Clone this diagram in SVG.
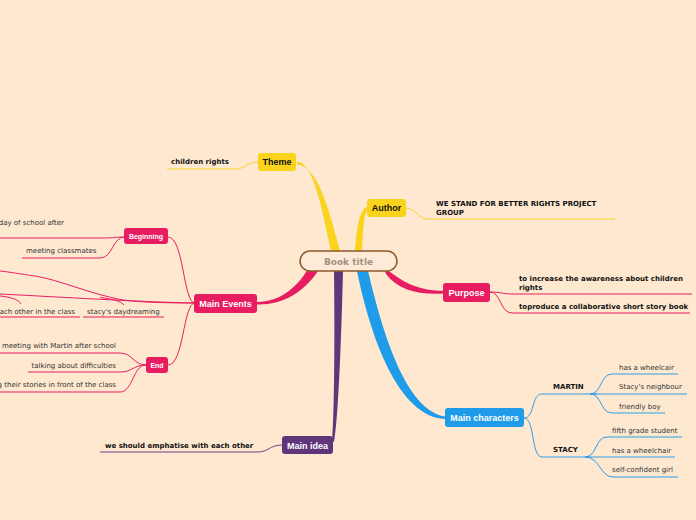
<svg xmlns="http://www.w3.org/2000/svg" width="696" height="520" viewBox="0 0 696 520">
<style>
.t{font-family:"DejaVu Sans",Verdana,sans-serif;font-size:7px;fill:#333}
.b{font-family:"DejaVu Sans",Verdana,sans-serif;font-size:7px;font-weight:bold;fill:#111}
.lbl{font-family:"Liberation Sans",Arial,sans-serif;font-size:9px;font-weight:bold;text-anchor:middle}
.w{fill:#fff}
.k{fill:#111}
.sm{font-family:"Liberation Sans",Arial,sans-serif;font-size:7px;font-weight:bold;text-anchor:middle;fill:#fff}
.ln{fill:none;stroke-width:1}
.y{stroke:#F7D329}
.r{stroke:#E81D62}
.bl{stroke:#2E9DE8}
.p{stroke:#6A4589}
.ny{fill:#F9D31C}
.nr{fill:#E81C60}
.nb{fill:#1E9BE9}
.np{fill:#5E3679}
</style>
<rect width="696" height="520" fill="#FEE8D0"/>
<g id="connectors">
  <path d="M297,161.5 C314,163 322,210 331,251 L340,251 C329,210 318,166 297,164.5 Z" fill="#F9D31C"/>
  <path d="M355,251 C357,225 360,208 368,206.5 L368,209 C364,212 363,230 362,251 Z" fill="#F9D31C"/>
  <path d="M383,266 C402,283 420,291 444,291 L444,293.5 C418,295 398,290 386,274 Z" fill="#E81C60"/>
  <path d="M309,267 C298,287 280,302 257,302 L257,304.5 C283,305 303,293 318,271 Z" fill="#E81C60"/>
  <path d="M334,271 L343,271 C341,350 338,420 334,442 L332,441 C334,420 335,350 334,271 Z" fill="#5E3679"/>
  <path d="M357,271 C370,335 398,417 445,419 L445,416.5 C405,410 382,330 368,271 Z" fill="#1E9BE9"/>
  <path class="ln y" d="M258,162 C246,162 246,169 235,169 L167,169"/>
  <path class="ln y" d="M406,208 C416,208 418,219 428,219 L615,219"/>
  <path class="ln r" d="M490,292 C500,292 503,294 512,294 L692,294"/>
  <path class="ln r" d="M490,292 C501,292 500,313 512,313 L690,313"/>
  <path class="ln bl" d="M524,418 C535,418 531,394 542,394 L597,394"/>
  <path class="ln bl" d="M524,418 C535,418 531,457 542,457 L590,457"/>
  <path class="ln bl" d="M590,394 C602,394 600,374 612,374 L678,374"/>
  <path class="ln bl" d="M590,394 L687,394"/>
  <path class="ln bl" d="M590,394 C602,394 600,413 612,413 L665,413"/>
  <path class="ln bl" d="M585,457 C597,457 595,437 607,437 L682,437"/>
  <path class="ln bl" d="M585,457 L675,457"/>
  <path class="ln bl" d="M585,457 C600,457 600,477 613,477 L678,477"/>
  <path class="ln p" d="M282,445 C270,445 268,452 258,452 L100,452"/>
  <path class="ln r" d="M195,303 C183,303 184,237 168,237"/>
  <path class="ln r" d="M195,303 C183,303 184,365 168,365"/>
  <path class="ln r" d="M125,237 C116,237 113,238 105,238 L0,238"/>
  <path class="ln r" d="M125,237 C112,237 113,258 100,258 L22,258"/>
  <path class="ln r" d="M146,365 C133,365 133,353 120,353 L0,353"/>
  <path class="ln r" d="M146,365 C133,365 133,372 120,372 L28,372"/>
  <path class="ln r" d="M146,365 C133,365 133,392 120,392 L0,392"/>
  <path class="ln r" d="M195,303 C160,303 140,302 123,300 C90,294 60,280 35,276 C20,274 10,272 0,271"/>
  <path class="ln r" d="M195,303 C140,302 60,297 0,294"/>
  <path class="ln r" d="M100,297.5 C112,299 121,301 124,305"/>
  <path class="ln r" d="M0,296 C10,297 18,299 21,304"/>
  <path class="ln r" d="M0,317 L80,317"/>
  <path class="ln r" d="M83,317 L164,317"/>
</g>
<g id="book-title">
  <rect x="300" y="251" width="97" height="20" rx="10" fill="#FEEAD6" stroke="#8C5A2E" stroke-width="1.5"/>
  <text x="348.5" y="264.5" text-anchor="middle" style="font-family:'DejaVu Sans',Verdana,sans-serif;font-size:9px;font-weight:bold;fill:#A39383">Book title</text>
</g>
<g id="theme">
  <rect x="258" y="153" width="38" height="18" rx="3" class="ny"/>
  <text x="277" y="165" class="lbl k">Theme</text>
</g>
<g id="children-rights"><text x="171" y="164" class="b">children rights</text></g>
<g id="author">
  <rect x="367" y="199" width="39" height="18" rx="3" class="ny"/>
  <text x="386.5" y="211" class="lbl k">Author</text>
</g>
<g id="author-text">
  <text x="436" y="206" class="b">WE STAND FOR BETTER RIGHTS PROJECT</text>
  <text x="436" y="215" class="b">GROUP</text>
</g>
<g id="purpose">
  <rect x="443" y="283" width="47" height="19" rx="3" class="nr"/>
  <text x="466.5" y="295.5" class="lbl w">Purpose</text>
</g>
<g id="purpose-1">
  <text x="519" y="281" class="b">to increase the awareness about children</text>
  <text x="519" y="290" class="b">rights</text>
</g>
<g id="purpose-2"><text x="519" y="309" class="b">toproduce a collaborative short story book</text></g>
<g id="main-characters">
  <rect x="445" y="408" width="79" height="19" rx="3" class="nb"/>
  <text x="484.5" y="421" class="lbl w">Main characters</text>
</g>
<g id="martin"><text x="553" y="389" class="b">MARTIN</text></g>
<g id="martin-1"><text x="619" y="370" class="t">has a wheelcair</text></g>
<g id="martin-2"><text x="619" y="389" class="t">Stacy's neighbour</text></g>
<g id="martin-3"><text x="619" y="409" class="t">friendly boy</text></g>
<g id="stacy"><text x="553" y="452" class="b">STACY</text></g>
<g id="stacy-1"><text x="612" y="433" class="t">fifth grade student</text></g>
<g id="stacy-2"><text x="612" y="453" class="t">has a wheelchair</text></g>
<g id="stacy-3"><text x="612" y="472" class="t">self-confident girl</text></g>
<g id="main-idea">
  <rect x="282" y="436" width="51" height="18" rx="3" class="np"/>
  <text x="307.5" y="448.5" class="lbl w">Main idea</text>
</g>
<g id="main-idea-1"><text x="105" y="448" class="b">we should emphatise with each other</text></g>
<g id="main-events">
  <rect x="194" y="294" width="63" height="19" rx="3" class="nr"/>
  <text x="225.5" y="306.5" class="lbl w">Main Events</text>
</g>
<g id="beginning">
  <rect x="124" y="228" width="44" height="16" rx="3" class="nr"/>
  <text x="146" y="239" class="sm">Beginning</text>
</g>
<g id="beginning-1"><text x="64" y="225" class="t" text-anchor="end">day of school after</text></g>
<g id="beginning-2"><text x="26" y="253" class="t">meeting classmates</text></g>
<g id="each-other"><text x="75" y="314" class="t" text-anchor="end">ach other in the class</text></g>
<g id="daydreaming"><text x="87" y="314" class="t">stacy's daydreaming</text></g>
<g id="end">
  <rect x="146" y="357" width="22" height="16" rx="3" class="nr"/>
  <text x="157" y="368" class="sm">End</text>
</g>
<g id="end-1"><text x="116" y="348" class="t" text-anchor="end">meeting with Martin after school</text></g>
<g id="end-2"><text x="116" y="368" class="t" text-anchor="end">talking about difficulties</text></g>
<g id="end-3"><text x="116" y="387" class="t" text-anchor="end">g their stories in front of the class</text></g>
</svg>
